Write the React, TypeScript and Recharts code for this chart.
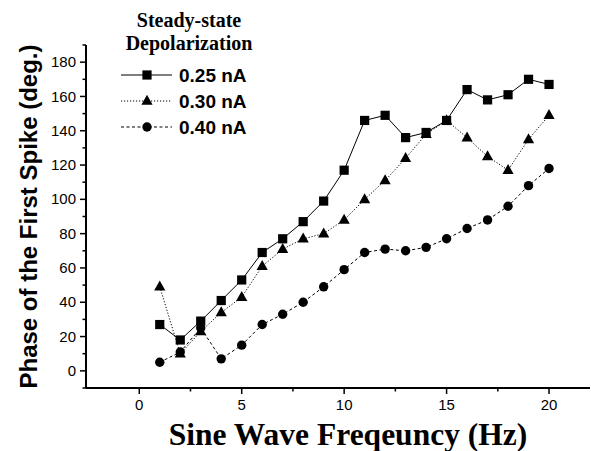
import React from 'react';
import { LineChart, Line, XAxis, YAxis, Legend } from 'recharts';

// ---- data ----
const frequencies = [1, 2, 3, 4, 5, 6, 7, 8, 9, 10, 11, 12, 13, 14, 15, 16, 17, 18, 19, 20];
const phase025 = [27, 18, 29, 41, 53, 69, 77, 87, 99, 117, 146, 149, 136, 139, 146, 164, 158, 161, 170, 167];
const phase030 = [49, 10, 23, 34, 43, 61, 71, 77, 80, 88, 100, 111, 124, 138, 146, 136, 125, 117, 135, 149];
const phase040 = [5, 11, 25, 7, 15, 27, 33, 40, 49, 59, 69, 71, 70, 72, 77, 83, 88, 96, 108, 118];
const seriesNames = ['0.25 nA', '0.30 nA', '0.40 nA'];
const legendTitle = ['Steady-state', 'Depolarization'];
const xTicks = [0, 2.5, 5, 7.5, 10, 12.5, 15, 17.5, 20];
const xLabels = [0, 5, 10, 15, 20];
const yTicks = [-10, 0, 10, 20, 30, 40, 50, 60, 70, 80, 90, 100, 110, 120, 130, 140, 150, 160, 170, 180, 190];
const yLabels = [0, 20, 40, 60, 80, 100, 120, 140, 160, 180];
const xTitle = 'Sine Wave Freqeuncy (Hz)';
const yTitle = 'Phase of the First Spike (deg.)';

const data = frequencies.map((f, i) => ({ f, a: phase025[i], b: phase030[i], c: phase040[i] }));

const SANS = '"Liberation Sans", Arial, sans-serif';
const SERIF = '"Liberation Serif", "Times New Roman", serif';

const Square = ({ cx, cy }: any) => <rect x={cx - 4.6} y={cy - 4.6} width={9.2} height={9.2} fill="#000" />;
const Triangle = ({ cx, cy }: any) => (
  <polygon points={`${cx},${cy - 6.2} ${cx - 5.6},${cy + 3.8} ${cx + 5.6},${cy + 3.8}`} fill="#000" />
);
const Circle = ({ cx, cy }: any) => <circle cx={cx} cy={cy} r={4.7} fill="#000" />;

const markers = [Square, Triangle, Circle];
const dashes = [undefined, '1.2 1.8', '3 2.5'];

const makeDot = (M: any) => (props: any) => {
  const { cx, cy, index } = props;
  if (cx == null || cy == null) return <g key={`n${index}`} />;
  return <M key={`m${index}`} cx={cx} cy={cy} />;
};

const XTick = (props: any) => {
  const { x, y, payload } = props;
  const major = xLabels.includes(payload.value);
  return (
    <g>
      <line x1={x} x2={x} y1={y} y2={y + (major ? 6 : 3.5)} stroke="#000" strokeWidth={1.5} />
      {major && (
        <text x={x} y={y + 22} textAnchor="middle" fontFamily={SANS} fontSize={15} fill="#000">
          {payload.value}
        </text>
      )}
    </g>
  );
};

const YTick = (props: any) => {
  const { x, y, payload } = props;
  const major = yLabels.includes(payload.value);
  return (
    <g>
      <line x1={x - (major ? 6 : 3.5)} x2={x} y1={y} y2={y} stroke="#000" strokeWidth={1.5} />
      {major && (
        <text x={x - 10} y={y} dy="0.34em" textAnchor="end" fontFamily={SANS} fontSize={15} fill="#000">
          {payload.value}
        </text>
      )}
    </g>
  );
};

const XTitle = (props: any) => {
  const vb = props.viewBox || { x: 86, y: 388, width: 504, height: 30 };
  return (
    <text x={vb.x + vb.width / 2 + 10} y={vb.y + 57} textAnchor="middle" fontFamily={SERIF}
      fontWeight="bold" fontSize={31.5} fill="#000">
      {xTitle}
    </text>
  );
};

const YTitle = (props: any) => {
  const vb = props.viewBox || { x: 0, y: 45, width: 86, height: 343 };
  const cx = vb.x + 37;
  const cy = vb.y + vb.height / 2;
  return (
    <text x={cx} y={cy} transform={`rotate(-90 ${cx} ${cy})`} textAnchor="middle" fontFamily={SANS}
      fontWeight="bold" fontSize={24} fill="#000">
      {yTitle}
    </text>
  );
};

const LegendContent = () => (
  <svg width={300} height={140} style={{ display: 'block' }}>
    {legendTitle.map((t, i) => (
      <text key={t} x={189} y={27 + i * 23} textAnchor="middle" fontFamily={SERIF} fontWeight="bold"
        fontSize={20} fill="#000">
        {t}
      </text>
    ))}
    {seriesNames.map((name, i) => {
      const cy = 75 + i * 26;
      const M = markers[i];
      return (
        <g key={name}>
          <line x1={121} x2={172} y1={cy} y2={cy} stroke="#000" strokeWidth={1} strokeDasharray={dashes[i]} />
          <M cx={147} cy={cy} />
          <text x={179} y={cy + 6.8} fontFamily={SANS} fontWeight="bold" fontSize={19} fill="#000">
            {name}
          </text>
        </g>
      );
    })}
  </svg>
);

export default function App() {
  return (
    <div style={{ position: 'absolute', left: 0, top: 0, width: 591, height: 451, overflow: 'hidden', background: '#fff' }}>
      <LineChart width={591} height={451} data={data} margin={{ top: 45, right: 1, bottom: 33, left: 0 }}>
        <XAxis
          dataKey="f"
          type="number"
          domain={[-2.6, 22]}
          allowDataOverflow
          ticks={xTicks}
          interval={0}
          tickSize={0}
          tickMargin={0}
          tickLine={false}
          tick={<XTick />}
          axisLine={{ stroke: '#000', strokeWidth: 2 }}
          height={30}
          label={<XTitle />}
        />
        <YAxis
          type="number"
          domain={[-10, 190]}
          allowDataOverflow
          ticks={yTicks}
          interval={0}
          tickSize={0}
          tickMargin={0}
          tickLine={false}
          tick={<YTick />}
          axisLine={{ stroke: '#000', strokeWidth: 2 }}
          width={86}
          label={<YTitle />}
        />
        <Legend
          layout="vertical"
          align="center"
          verticalAlign="middle"
          content={<LegendContent />}
          wrapperStyle={{ position: 'absolute', left: 0, top: 0, width: 300, height: 140 }}
        />
        {(['a', 'b', 'c'] as const).map((k, i) => (
          <Line
            key={k}
            dataKey={k}
            name={seriesNames[i]}
            stroke="#000"
            strokeWidth={1}
            strokeDasharray={dashes[i]}
            dot={makeDot(markers[i])}
            activeDot={false}
            isAnimationActive={false}
          />
        ))}
      </LineChart>
    </div>
  );
}
